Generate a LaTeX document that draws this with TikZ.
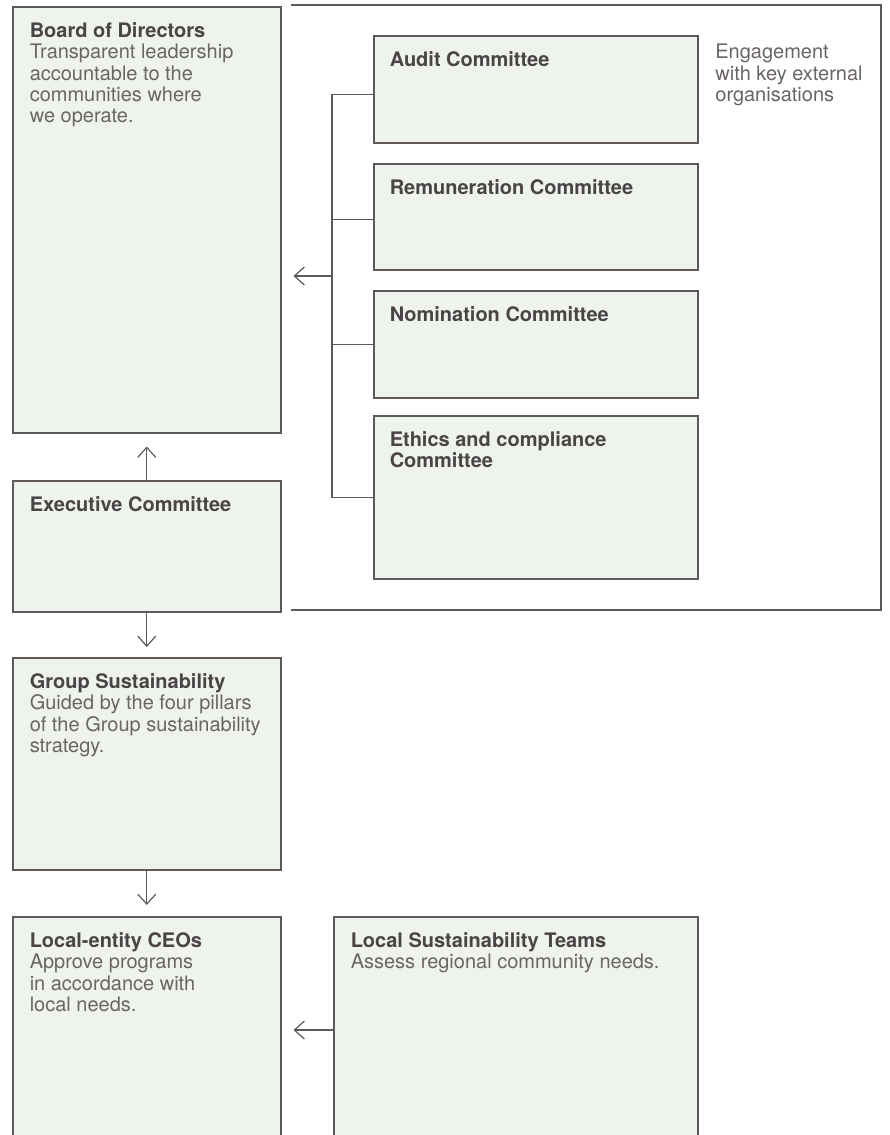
\documentclass[tikz,border=0pt]{standalone}
\usepackage{fontspec}
\setmainfont{TeX Gyre Heros}
\usepackage{xcolor}
\usetikzlibrary{arrows.meta}

\definecolor{panelfill}{HTML}{EFF3EE}
\definecolor{rulegray}{HTML}{5E5858}
\definecolor{headgray}{HTML}{4A4444}
\definecolor{bodygray}{HTML}{6A6464}

\newcommand{\boxbody}[3]{\parbox[t][#2][t]{#1}{\raggedright #3}}
\newcommand{\boxhead}[1]{{\bfseries\color{headgray}#1}}

\begin{document}
\begin{tikzpicture}[x=0.5pt, y=-0.5pt,
    panel/.style = {shape=rectangle, draw=rulegray, fill=panelfill,
      line width=0.75pt, anchor=north west,
      inner xsep=8.5pt, inner ysep=8pt,
      font=\fontsize{10}{10.6}\selectfont, text=bodygray},
    note/.style = {anchor=north west, inner sep=0pt, align=left,
      font=\fontsize{10}{10.6}\selectfont, text=bodygray},
    conn/.style = {draw=rulegray, line width=0.6pt},
    flow/.style = {conn, -{Straight Barb[length=5pt,width=9pt]}}]
    \useasboundingbox (0,0) rectangle (889,1135);
    \clip (0,0) rectangle (889,1135);

    % left column
    \node[panel] (board) at (12,6) {\boxbody{117pt}{197pt}{\boxhead{Board of Directors}\\
        Transparent leadership\\accountable to the\\communities where\\we operate.}};
    \node[panel] (exec) at (12,480) {\boxbody{117pt}{49.5pt}{\boxhead{Executive Committee}}};
    \node[panel] (group) at (12,657) {\boxbody{117pt}{90pt}{\boxhead{Group Sustainability}\\
        Guided by the four pillars\\of the Group sustainability\\strategy.}};
    \node[panel] (ceos) at (12,916) {\boxbody{117pt}{106pt}{\boxhead{Local-entity CEOs}\\
        Approve programs\\in accordance with\\local needs.}};
    \node[panel] (teams) at (333,916) {\boxbody{165pt}{106pt}{\boxhead{Local Sustainability Teams}\\
        Assess regional community needs.}};

    % committees
    \node[panel, inner xsep=8pt] (audit) at (373,35) {\boxbody{146pt}{37.5pt}{\boxhead{Audit Committee}}};
    \node[panel, inner xsep=8pt] (remun) at (373,163) {\boxbody{146pt}{37pt}{\boxhead{Remuneration Committee}}};
    \node[panel, inner xsep=8pt] (nomin) at (373,290) {\boxbody{146pt}{37.5pt}{\boxhead{Nomination Committee}}};
    \node[panel, inner xsep=8pt] (ethics) at (373,415) {\boxbody{146pt}{65.5pt}{\boxhead{Ethics and compliance\\Committee}}};
    \node[note] (engage) at (715,44) {Engagement\\with key external\\organisations};

    % frame round the committees
    \draw[conn] (291,5) -- (881,5) -- (881,610) -- (291,610);

    % bracket
    \coordinate (hub) at (332,276);
    \draw[conn] ([yshift=-2.5pt]audit.west) -| (hub) |- (ethics.west);
    \draw[conn] ([yshift=-1.5pt]remun.west) -- ([yshift=-1.5pt]remun.west -| hub);
    \draw[conn] (nomin.west) -- (nomin.west -| hub);
    \draw[flow, shorten >=6pt] (hub) -- (hub -| board.east);

    % arrows
    \draw[flow, shorten >=6.5pt] (exec) -- (board);
    \draw[flow, shorten >=5pt] (exec) -- (group);
    \draw[flow, shorten >=5.5pt] (group) -- (ceos);
    \coordinate (teamport) at (333,1030);
    \draw[flow, shorten >=6pt] (teamport) -- (teamport -| ceos.east);
\end{tikzpicture}
\end{document}
